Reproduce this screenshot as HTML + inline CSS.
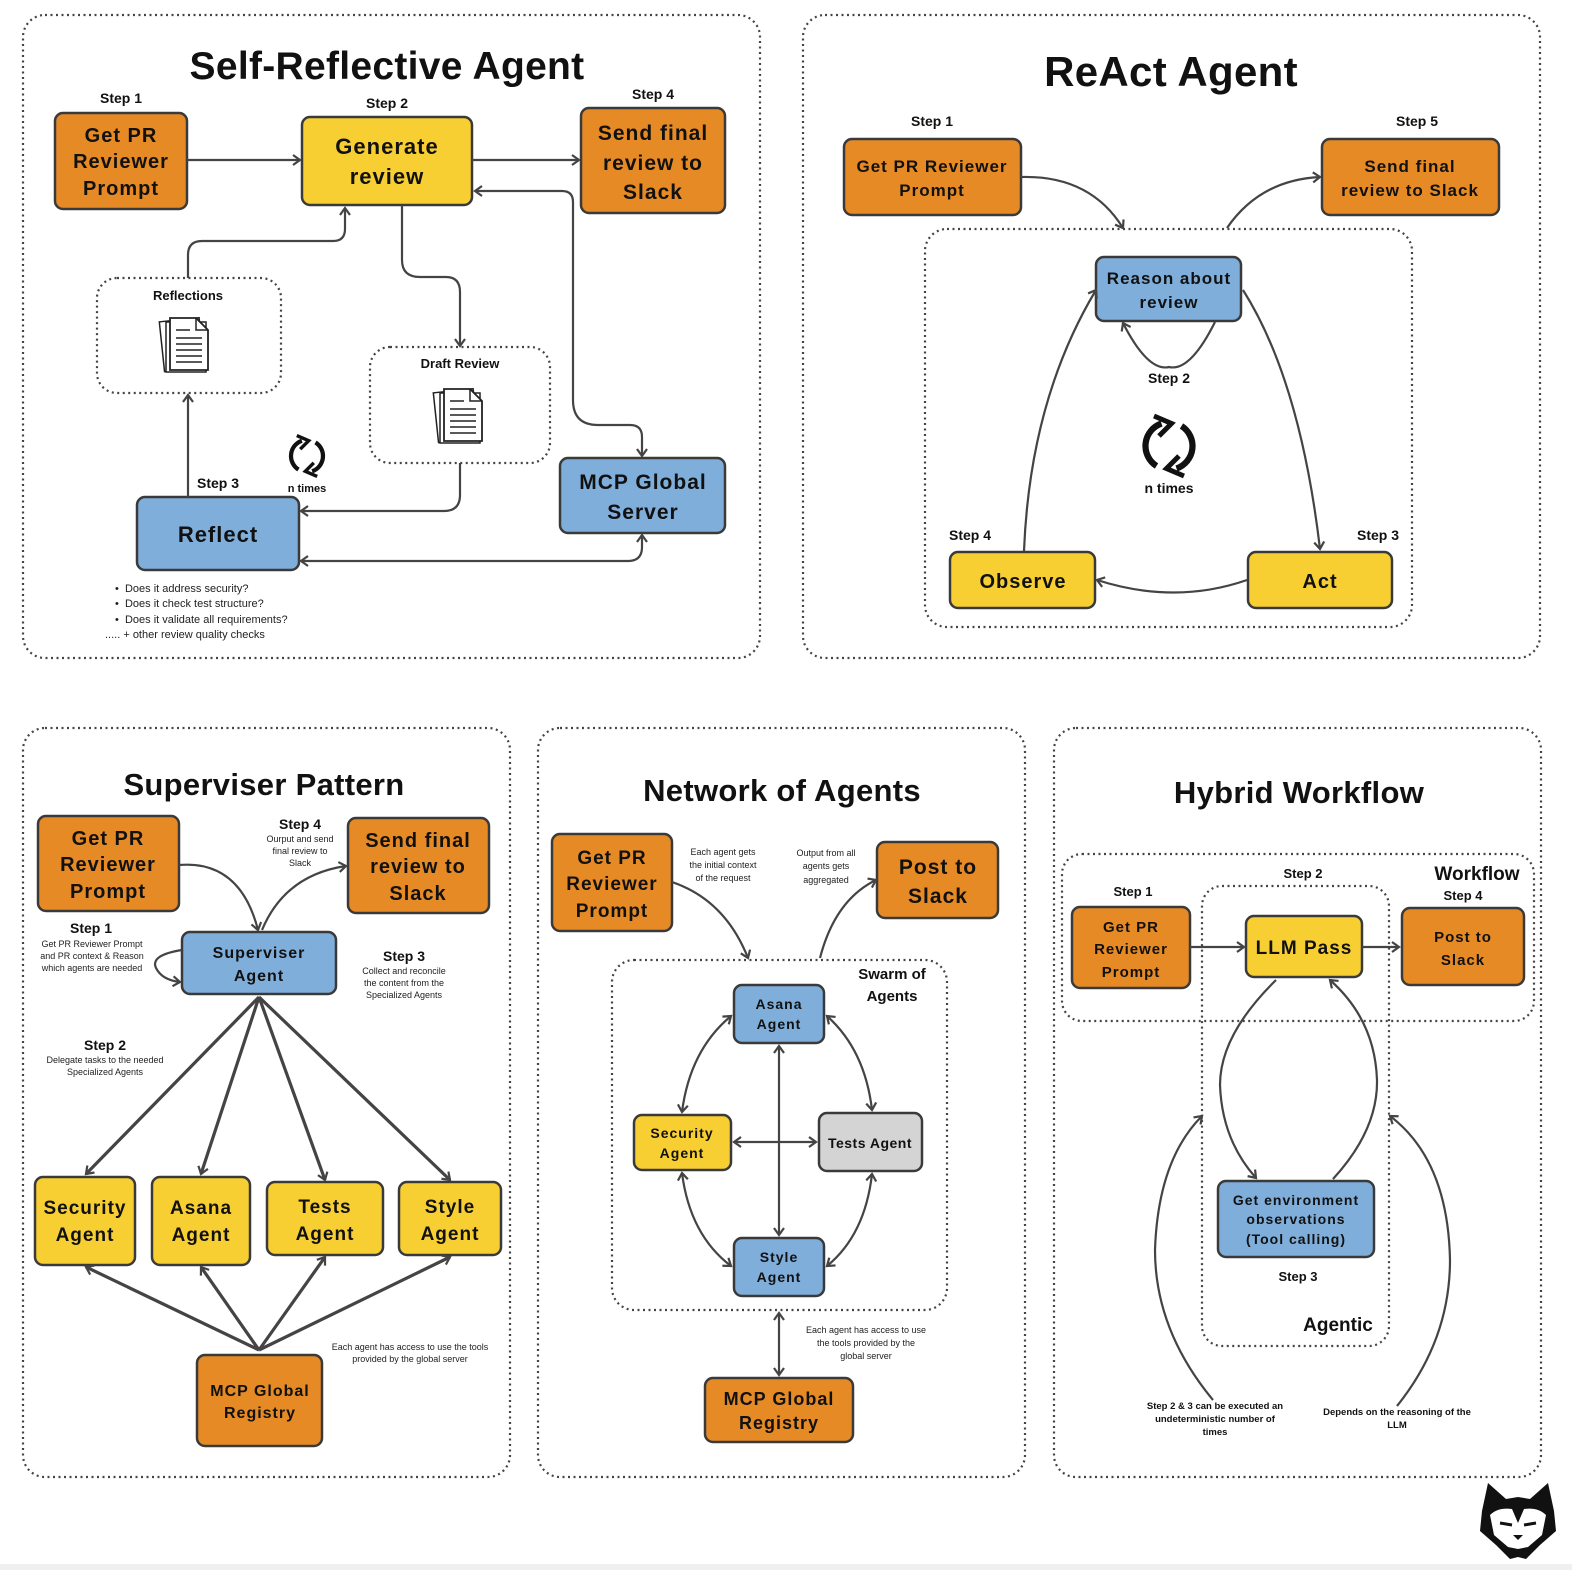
<!DOCTYPE html>
<html><head><meta charset="utf-8"><style>
html,body{margin:0;padding:0;background:#fff;}
svg{display:block;font-family:"Liberation Sans",sans-serif;font-size:14px;}
.b{stroke:#3a3a3a;stroke-width:2.5;}
.o{fill:#E58A25}.y{fill:#F8CF33}.bl{fill:#7FAEDB}.g{fill:#D4D4D4}
.t{font-weight:bold;fill:#111;text-anchor:middle;letter-spacing:1px}
.s{font-weight:bold;fill:#111;text-anchor:middle}
.sm{fill:#222;text-anchor:middle;font-size:9px}
.dot{fill:none;stroke:#444;stroke-width:2.2;stroke-dasharray:2 3.5}
.l{fill:none;stroke:#444;stroke-width:2.2}
.lt{fill:none;stroke:#444;stroke-width:3.2}
</style></head><body>
<svg width="1572" height="1570" viewBox="0 0 1572 1570" xmlns="http://www.w3.org/2000/svg">
<defs>
<marker id="a" markerUnits="userSpaceOnUse" markerWidth="14" markerHeight="14" refX="10" refY="7" orient="auto-start-reverse">
<path d="M3,2 L10,7 L3,12" fill="none" stroke="#444" stroke-width="2.2"/></marker>
<g id="doc">
<rect x="-26" y="-27" width="40" height="50" fill="#fff" stroke="#222" stroke-width="1.5" transform="rotate(-6)"/>
<rect x="-22" y="-24" width="40" height="50" fill="#fff" stroke="#222" stroke-width="1.5"/>
<path d="M-18,-28 L8,-28 L20,-16 L20,24 L-18,24 Z" fill="#fff" stroke="#222" stroke-width="1.8"/>
<path d="M8,-28 L8,-16 L20,-16" fill="none" stroke="#222" stroke-width="1.5"/>
<path d="M-12,-16 H2 M-12,-8 H14 M-12,-2 H14 M-12,4 H14 M-12,10 H14 M-12,16 H14" stroke="#222" stroke-width="1.6"/>
</g>
<g id="cyc">
<path d="M-6,-18 A19,19 0 0 0 -10,16" fill="none" stroke="#111" stroke-width="5"/>
<path d="M6,18 A19,19 0 0 0 10,-16" fill="none" stroke="#111" stroke-width="5"/>
<path d="M-12,-24 L2,-18 L-8,-8" fill="none" stroke="#111" stroke-width="4"/>
<path d="M12,24 L-2,18 L8,8" fill="none" stroke="#111" stroke-width="4"/>
</g>
</defs>

<!-- panels -->
<rect x="23" y="15" width="737" height="643" rx="22" class="dot"/>
<rect x="803" y="15" width="737" height="643" rx="22" class="dot"/>
<rect x="23" y="728" width="487" height="749" rx="22" class="dot"/>
<rect x="538" y="728" width="487" height="749" rx="22" class="dot"/>
<rect x="1054" y="728" width="487" height="749" rx="22" class="dot"/>

<!-- ===== Panel 1 ===== -->
<text x="387" y="79" class="t" font-size="39" style="letter-spacing:0.3px">Self-Reflective Agent</text>
<text x="121" y="103" class="s">Step 1</text>
<text x="387" y="108" class="s">Step 2</text>
<text x="653" y="99" class="s">Step 4</text>
<text x="218" y="488" class="s">Step 3</text>
<rect x="55" y="113" width="132" height="96" rx="8" class="o b"/>
<text class="t" font-size="20"><tspan x="121" y="142">Get PR</tspan><tspan x="121" y="168">Reviewer</tspan><tspan x="121" y="195">Prompt</tspan></text>
<rect x="302" y="117" width="170" height="88" rx="8" class="y b"/>
<text class="t" font-size="22"><tspan x="387" y="154">Generate</tspan><tspan x="387" y="184">review</tspan></text>
<rect x="581" y="108" width="144" height="105" rx="8" class="o b"/>
<text class="t" font-size="21"><tspan x="653" y="140">Send final</tspan><tspan x="653" y="170">review to</tspan><tspan x="653" y="199">Slack</tspan></text>
<rect x="137" y="497" width="162" height="73" rx="8" class="bl b"/>
<text x="218" y="542" class="t" font-size="22">Reflect</text>
<rect x="560" y="458" width="165" height="75" rx="8" class="bl b"/>
<text class="t" font-size="21"><tspan x="643" y="489">MCP Global</tspan><tspan x="643" y="519">Server</tspan></text>
<rect x="97" y="278" width="184" height="115" rx="20" class="dot"/>
<text x="188" y="300" class="s" font-size="13">Reflections</text>
<use href="#doc" x="188" y="346"/>
<rect x="370" y="347" width="180" height="116" rx="20" class="dot"/>
<text x="460" y="368" class="s" font-size="13">Draft Review</text>
<use href="#doc" x="462" y="417"/>
<use href="#cyc" transform="translate(307,456) scale(0.85)"/>
<text x="307" y="492" class="s" font-size="11">n times</text>
<path d="M187,160 H300" class="l" marker-end="url(#a)"/>
<path d="M472,160 H579" class="l" marker-end="url(#a)"/>
<path d="M475,191 H562 Q573,191 573,202 V400 Q573,425 598,425 H630 Q642,425 642,437 V456" class="l" marker-start="url(#a)" marker-end="url(#a)"/>
<path d="M188,278 V255 Q188,241 202,241 H333 Q345,241 345,229 V208" class="l" marker-end="url(#a)"/>
<path d="M402,205 V260 Q402,277 420,277 H446 Q460,277 460,292 V346" class="l" marker-end="url(#a)"/>
<path d="M460,463 V495 Q460,511 444,511 H301" class="l" marker-end="url(#a)"/>
<path d="M188,497 V395" class="l" marker-end="url(#a)"/>
<path d="M301,561 H628 Q642,561 642,547 V535" class="l" marker-start="url(#a)" marker-end="url(#a)"/>
<g font-size="11" fill="#222">
<text x="115" y="592">•&#160;&#160;Does it address security?</text>
<text x="115" y="607">•&#160;&#160;Does it check test structure?</text>
<text x="115" y="623">•&#160;&#160;Does it validate all requirements?</text>
<text x="105" y="638">..... + other review quality checks</text>
</g>

<!-- ===== Panel 2 ===== -->
<text x="1171" y="86" class="t" font-size="42" style="letter-spacing:0.3px">ReAct Agent</text>
<text x="932" y="126" class="s">Step 1</text>
<text x="1417" y="126" class="s">Step 5</text>
<rect x="844" y="139" width="177" height="76" rx="8" class="o b"/>
<text class="t" font-size="17"><tspan x="932" y="172">Get PR Reviewer</tspan><tspan x="932" y="196">Prompt</tspan></text>
<rect x="1322" y="139" width="177" height="76" rx="8" class="o b"/>
<text class="t" font-size="17"><tspan x="1410" y="172">Send final</tspan><tspan x="1410" y="196">review to Slack</tspan></text>
<rect x="925" y="229" width="487" height="398" rx="22" class="dot"/>
<rect x="1096" y="257" width="145" height="64" rx="8" class="bl b"/>
<text class="t" font-size="17"><tspan x="1169" y="284">Reason about</tspan><tspan x="1169" y="308">review</tspan></text>
<rect x="1248" y="552" width="144" height="56" rx="8" class="y b"/>
<text x="1320" y="588" class="t" font-size="20">Act</text>
<rect x="950" y="552" width="145" height="56" rx="8" class="y b"/>
<text x="1023" y="588" class="t" font-size="20">Observe</text>
<text x="1169" y="383" class="s">Step 2</text>
<text x="1378" y="540" class="s">Step 3</text>
<text x="970" y="540" class="s">Step 4</text>
<use href="#cyc" transform="translate(1169,446) scale(1.25)"/>
<text x="1169" y="493" class="s">n times</text>
<path d="M1021,177 Q1090,175 1123,228" class="l" marker-end="url(#a)"/>
<path d="M1227,228 Q1260,180 1320,177" class="l" marker-end="url(#a)"/>
<path d="M1215,322 Q1190,372 1169,367 Q1148,372 1123,323" class="l" marker-end="url(#a)"/>
<path d="M1243,290 Q1300,380 1320,549" class="l" marker-end="url(#a)"/>
<path d="M1247,580 Q1175,605 1097,580" class="l" marker-end="url(#a)"/>
<path d="M1024,551 Q1030,400 1096,290" class="l" marker-end="url(#a)"/>

<!-- ===== Panel 3 ===== -->
<text x="264" y="795" class="t" font-size="31" style="letter-spacing:0.3px">Superviser Pattern</text>
<rect x="38" y="816" width="141" height="95" rx="8" class="o b"/>
<text class="t" font-size="20"><tspan x="108" y="845">Get PR</tspan><tspan x="108" y="871">Reviewer</tspan><tspan x="108" y="898">Prompt</tspan></text>
<rect x="348" y="818" width="141" height="95" rx="8" class="o b"/>
<text class="t" font-size="20"><tspan x="418" y="847">Send final</tspan><tspan x="418" y="873">review to</tspan><tspan x="418" y="900">Slack</tspan></text>
<text x="300" y="829" class="s">Step 4</text>
<text class="sm"><tspan x="300" y="842">Ourput and send</tspan><tspan x="300" y="854">final review to</tspan><tspan x="300" y="866">Slack</tspan></text>
<rect x="182" y="932" width="154" height="62" rx="8" class="bl b"/>
<text class="t" font-size="16"><tspan x="259" y="958">Superviser</tspan><tspan x="259" y="981">Agent</tspan></text>
<text x="91" y="933" class="s">Step 1</text>
<text class="sm"><tspan x="92" y="947">Get PR Reviewer Prompt</tspan><tspan x="92" y="959">and PR context &amp; Reason</tspan><tspan x="92" y="971">which agents are needed</tspan></text>
<text x="404" y="961" class="s">Step 3</text>
<text class="sm"><tspan x="404" y="974">Collect and reconcile</tspan><tspan x="404" y="986">the content from the</tspan><tspan x="404" y="998">Specialized Agents</tspan></text>
<text x="105" y="1050" class="s">Step 2</text>
<text class="sm"><tspan x="105" y="1063">Delegate tasks to the needed</tspan><tspan x="105" y="1075">Specialized Agents</tspan></text>
<path d="M179,865 Q240,860 258,930" class="l" marker-end="url(#a)"/>
<path d="M262,930 Q285,875 346,866" class="l" marker-end="url(#a)"/>
<path d="M182,950 Q150,955 156,968 Q162,980 180,982" class="l" marker-end="url(#a)"/>
<rect x="35" y="1177" width="100" height="88" rx="8" class="y b"/>
<text class="t" font-size="19"><tspan x="85" y="1214">Security</tspan><tspan x="85" y="1241">Agent</tspan></text>
<rect x="152" y="1177" width="98" height="88" rx="8" class="y b"/>
<text class="t" font-size="19"><tspan x="201" y="1214">Asana</tspan><tspan x="201" y="1241">Agent</tspan></text>
<rect x="267" y="1182" width="116" height="73" rx="8" class="y b"/>
<text class="t" font-size="19"><tspan x="325" y="1213">Tests</tspan><tspan x="325" y="1240">Agent</tspan></text>
<rect x="399" y="1182" width="102" height="73" rx="8" class="y b"/>
<text class="t" font-size="19"><tspan x="450" y="1213">Style</tspan><tspan x="450" y="1240">Agent</tspan></text>
<path d="M259,997 L86,1174" class="lt" marker-end="url(#a)"/>
<path d="M259,997 L201,1174" class="lt" marker-end="url(#a)"/>
<path d="M259,997 L325,1180" class="lt" marker-end="url(#a)"/>
<path d="M259,997 L450,1180" class="lt" marker-end="url(#a)"/>
<path d="M259,1350 L86,1267" class="lt" marker-end="url(#a)"/>
<path d="M259,1350 L201,1267" class="lt" marker-end="url(#a)"/>
<path d="M259,1350 L325,1257" class="lt" marker-end="url(#a)"/>
<path d="M259,1350 L450,1257" class="lt" marker-end="url(#a)"/>
<rect x="197" y="1355" width="125" height="91" rx="8" class="o b"/>
<text class="t" font-size="16"><tspan x="260" y="1396">MCP Global</tspan><tspan x="260" y="1418">Registry</tspan></text>
<text class="sm"><tspan x="410" y="1350">Each agent has access to use the tools</tspan><tspan x="410" y="1362">provided by the global server</tspan></text>

<!-- ===== Panel 4 ===== -->
<text x="782" y="801" class="t" font-size="31" style="letter-spacing:0.3px">Network of Agents</text>
<rect x="552" y="834" width="120" height="97" rx="8" class="o b"/>
<text class="t" font-size="19"><tspan x="612" y="864">Get PR</tspan><tspan x="612" y="890">Reviewer</tspan><tspan x="612" y="917">Prompt</tspan></text>
<rect x="877" y="842" width="121" height="76" rx="8" class="o b"/>
<text class="t" font-size="21"><tspan x="938" y="874">Post to</tspan><tspan x="938" y="903">Slack</tspan></text>
<text class="sm"><tspan x="723" y="855">Each agent gets</tspan><tspan x="723" y="868">the initial context</tspan><tspan x="723" y="881">of the request</tspan></text>
<text class="sm"><tspan x="826" y="856">Output from all</tspan><tspan x="826" y="869">agents gets</tspan><tspan x="826" y="883">aggregated</tspan></text>
<rect x="612" y="960" width="335" height="350" rx="22" class="dot"/>
<text class="s" font-size="15"><tspan x="892" y="979">Swarm of</tspan><tspan x="892" y="1001">Agents</tspan></text>
<path d="M672,882 Q725,900 748,958" class="l" marker-end="url(#a)"/>
<path d="M820,958 Q835,900 876,880" class="l" marker-end="url(#a)"/>
<rect x="734" y="985" width="90" height="58" rx="8" class="bl b"/>
<text class="t" font-size="14"><tspan x="779" y="1009">Asana</tspan><tspan x="779" y="1029">Agent</tspan></text>
<rect x="634" y="1115" width="97" height="55" rx="8" class="y b"/>
<text class="t" font-size="14"><tspan x="682" y="1138">Security</tspan><tspan x="682" y="1158">Agent</tspan></text>
<rect x="819" y="1113" width="103" height="58" rx="8" class="g b"/>
<text x="870" y="1148" class="t" font-size="14" style="letter-spacing:0.5px">Tests Agent</text>
<rect x="734" y="1238" width="90" height="58" rx="8" class="bl b"/>
<text class="t" font-size="14"><tspan x="779" y="1262">Style</tspan><tspan x="779" y="1282">Agent</tspan></text>
<path d="M779,1046 V1235" class="l" marker-start="url(#a)" marker-end="url(#a)"/>
<path d="M734,1142 H816" class="l" marker-start="url(#a)" marker-end="url(#a)"/>
<path d="M731,1016 Q690,1050 682,1112" class="l" marker-start="url(#a)" marker-end="url(#a)"/>
<path d="M827,1016 Q865,1050 872,1110" class="l" marker-start="url(#a)" marker-end="url(#a)"/>
<path d="M682,1173 Q690,1235 731,1266" class="l" marker-start="url(#a)" marker-end="url(#a)"/>
<path d="M827,1266 Q865,1235 872,1174" class="l" marker-start="url(#a)" marker-end="url(#a)"/>
<path d="M779,1313 V1375" class="l" marker-start="url(#a)" marker-end="url(#a)"/>
<rect x="705" y="1378" width="148" height="64" rx="8" class="o b"/>
<text class="t" font-size="18"><tspan x="779" y="1405">MCP Global</tspan><tspan x="779" y="1429">Registry</tspan></text>
<text class="sm"><tspan x="866" y="1333">Each agent has access to use</tspan><tspan x="866" y="1346">the tools provided by the</tspan><tspan x="866" y="1359">global server</tspan></text>

<!-- ===== Panel 5 ===== -->
<text x="1299" y="803" class="t" font-size="31" style="letter-spacing:0.3px">Hybrid Workflow</text>
<rect x="1062" y="854" width="472" height="167" rx="20" class="dot"/>
<text x="1477" y="880" class="s" font-size="19">Workflow</text>
<rect x="1202" y="886" width="187" height="460" rx="20" class="dot"/>
<text x="1338" y="1331" class="s" font-size="19">Agentic</text>
<text x="1303" y="878" class="s" font-size="13">Step 2</text>
<text x="1133" y="896" class="s" font-size="13">Step 1</text>
<text x="1463" y="900" class="s" font-size="13">Step 4</text>
<rect x="1072" y="907" width="118" height="81" rx="8" class="o b"/>
<text class="t" font-size="15"><tspan x="1131" y="932">Get PR</tspan><tspan x="1131" y="954">Reviewer</tspan><tspan x="1131" y="977">Prompt</tspan></text>
<rect x="1246" y="916" width="116" height="61" rx="8" class="y b"/>
<text x="1304" y="954" class="t" font-size="19">LLM Pass</text>
<rect x="1402" y="908" width="122" height="77" rx="8" class="o b"/>
<text class="t" font-size="15"><tspan x="1463" y="942">Post to</tspan><tspan x="1463" y="965">Slack</tspan></text>
<path d="M1190,947 H1244" class="l" marker-end="url(#a)"/>
<path d="M1362,947 H1399" class="l" marker-end="url(#a)"/>
<rect x="1218" y="1181" width="156" height="76" rx="8" class="bl b"/>
<text class="t" font-size="14"><tspan x="1296" y="1205">Get environment</tspan><tspan x="1296" y="1224">observations</tspan><tspan x="1296" y="1244">(Tool calling)</tspan></text>
<text x="1298" y="1281" class="s" font-size="13">Step 3</text>
<path d="M1276,980 Q1220,1035 1220,1085 Q1222,1140 1256,1178" class="l" marker-end="url(#a)"/>
<path d="M1333,1179 Q1378,1130 1377,1080 Q1375,1020 1330,980" class="l" marker-end="url(#a)"/>
<path d="M1213,1400 Q1155,1330 1155,1250 Q1158,1160 1202,1116" class="l" marker-end="url(#a)"/>
<path d="M1397,1406 Q1450,1340 1450,1260 Q1448,1160 1390,1116" class="l" marker-end="url(#a)"/>
<text class="s" font-size="9.5"><tspan x="1215" y="1409">Step 2 &amp; 3 can be executed an</tspan><tspan x="1215" y="1422">undeterministic number of</tspan><tspan x="1215" y="1435">times</tspan></text>
<text class="s" font-size="9.5"><tspan x="1397" y="1415">Depends on the reasoning of the</tspan><tspan x="1397" y="1428">LLM</tspan></text>

<!-- wolf logo -->
<g transform="translate(1518,1523)">
<path d="M-36,-12 L-30,-40 L-12,-24 L0,-26 L12,-24 L30,-40 L36,-12 L38,8 L22,22 L8,36 L0,34 L-8,36 L-22,22 L-38,8 Z" fill="#111"/>
<path d="M-28,-8 Q-20,-16 -6,-14 L0,0 L6,-14 Q20,-16 28,-8 L24,12 L10,24 L0,26 L-10,24 L-24,12 Z" fill="#fff"/>
<path d="M-18,0 L-6,2 M18,0 L6,2" stroke="#111" stroke-width="3"/>
<path d="M-5,12 L5,12 L0,17 Z" fill="#111"/>
</g>
<rect x="0" y="1564" width="1572" height="6" fill="#f0f0f3"/>
</svg>
</body></html>
